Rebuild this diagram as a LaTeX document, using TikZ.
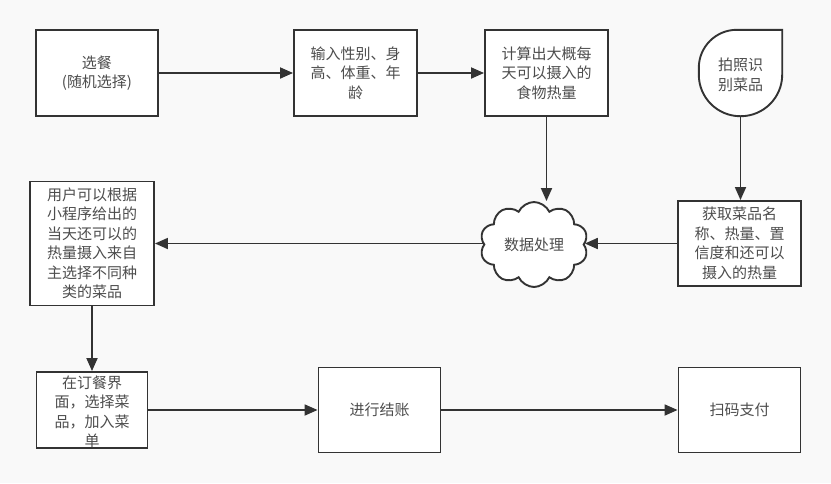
\documentclass[tikz,border=0pt]{standalone}
\usepackage{fontspec}
\setmainfont{Noto Sans CJK SC}
\usetikzlibrary{arrows.meta,shapes.symbols}
\definecolor{bg}{HTML}{F9F9F9}
\definecolor{ln}{HTML}{333333}
\definecolor{tx}{HTML}{4D4D4D}
\tikzset{
  boxnode/.style={draw=ln,line width=1.9pt,fill=white,inner sep=0pt,align=center,
    text=tx,font=\fontsize{15}{19.5}\selectfont},
  txtnode/.style={inner sep=0pt,align=center,text=tx,font=\fontsize{15}{19.5}\selectfont},
  conn/.style={draw=ln,line width=1.8pt,-{Triangle[length=13pt,width=11pt]}},
}
\begin{document}
\begin{tikzpicture}[x=1pt,y=-1pt]
\fill[bg] (0,0) rectangle (831,483);
\useasboundingbox (0,0) rectangle (831,483);

\node[boxnode,minimum width=122pt,minimum height=86pt] (b1) at (97,73) {选餐\\(随机选择)};
\node[boxnode,minimum width=123pt,minimum height=86pt] (b2) at (355.5,73) {输入性别、身\\高、体重、年\\龄};
\node[boxnode,minimum width=123pt,minimum height=86pt] (b3) at (546.5,73) {计算出大概每\\天可以摄入的\\食物热量};

\node[minimum width=83pt,minimum height=86pt,inner sep=0pt] (b4) at (740.5,73) {};
\draw[draw=ln,line width=1.9pt,fill=white]
  (b4.north east) [rounded corners=41.5pt] -- (b4.south east) -- (b4.south west)
  [rounded corners=38pt] -- (b4.north west) [sharp corners] -- cycle;
\node[txtnode] (b4t) at (740.5,75) {拍照识\\别菜品};

\node[cloud,cloud puffs=10,cloud puff arc=130,aspect=1.3,draw=ln,line width=1.9pt,fill=white,
  minimum width=108pt,minimum height=85pt,inner sep=0pt,text=tx,
  font=\fontsize{15}{19.5}\selectfont] (cl) at (534,244.5) {数据处理};

\node[boxnode,minimum width=123pt,minimum height=85pt] (b5) at (739.5,243.5) {获取菜品名\\称、热量、置\\信度和还可以\\摄入的热量};
\node[boxnode,minimum width=124pt,minimum height=124pt] (b6) at (92,243.5) {用户可以根据\\小程序给出的\\当天还可以的\\热量摄入来自\\主选择不同种\\类的菜品};

\node[boxnode,minimum width=111pt,minimum height=76pt] (b7) at (92,410) {};
\node[txtnode] (b7t) at (92,412) {在订餐界\\面，选择菜\\品，加入菜\\单};
\node[boxnode,minimum width=122pt,minimum height=85pt] (b8) at (379.5,410) {进行结账};
\node[boxnode,minimum width=122pt,minimum height=85pt] (b9) at (739.5,410) {扫码支付};

\draw[conn] (b1) -- (b2);
\draw[conn] (b2) -- (b3);
\draw[conn] (b3.south) -- (b3.south |- cl.north);
\draw[conn] (b4.south) -- (b4.south |- b5.north);
\draw[conn] (b5.west) -- (cl.east |- b5.west);
\draw[conn] (cl.west |- b6.east) -- (b6.east);
\draw[conn] (b6.south) -- (b7.north);
\draw[conn] (b7.east |- b8.west) -- (b8.west);
\draw[conn] (b8) -- (b9);
\end{tikzpicture}
\end{document}
